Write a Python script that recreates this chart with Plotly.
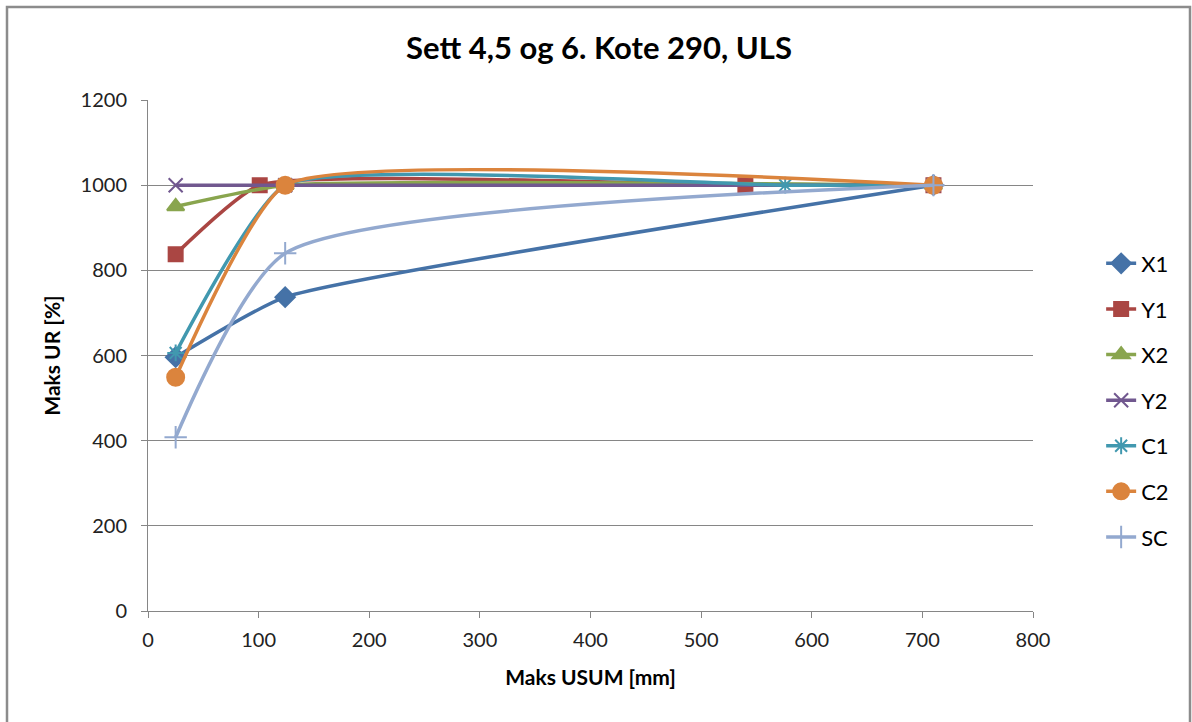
import plotly.graph_objects as go

# Data
x1_x = [25, 124, 710]
x1_y = [596, 737, 1000]
y1_x = [25, 101, 540, 710]
y1_y = [838, 1000, 1000, 1000]
x2_x = [25, 124, 710]
x2_y = [950, 1000, 1000]
y2_x = [25, 124, 710]
y2_y = [1000, 1000, 1000]
c1_x = [25, 124, 576, 710]
c1_y = [606, 1000, 1000, 1000]
c2_x = [25, 124, 710]
c2_y = [549, 1000, 1000]
sc_x = [25, 124, 710]
sc_y = [408, 840, 1000]

series = [
    ("X1", x1_x, x1_y, "#4572A7", "diamond", 15, 0.45),
    ("Y1", y1_x, y1_y, "#AA4643", "square", 14, 0.45),
    ("X2", x2_x, x2_y, "#89A54E", "triangle-up", 15, 0.45),
    ("Y2", y2_x, y2_y, "#71588F", "x-thin", 14, 0.45),
    ("C1", c1_x, c1_y, "#4198AF", "asterisk", 14, 0.45),
    ("C2", c2_x, c2_y, "#DB843D", "circle", 17, 0.45),
    ("SC", sc_x, sc_y, "#93A9CF", "cross-thin", 16, 0.6),
]

FONT = "Lato, 'Open Sans', sans-serif"

fig = go.Figure()
for name, xs, ys, col, sym, sz, sm in series:
    fig.add_trace(go.Scatter(
        x=xs, y=ys, name=name, mode="lines+markers", legendgroup=name,
        line=dict(color=col, width=3.5, shape="spline", smoothing=sm),
        marker=dict(symbol=sym, size=sz, color=col,
                    line=dict(color=col, width=2)),
    ))

fig.update_layout(
    width=1192, height=722,
    paper_bgcolor="white", plot_bgcolor="white",
    margin=dict(l=148, r=159, t=100, b=111),
    title=dict(text="<b>Sett 4,5 og 6. Kote 290, ULS</b>",
               x=599 / 1192, xanchor="center",
               y=1 - 48 / 722, yanchor="middle",
               font=dict(family=FONT, size=31, color="#000000")),
    font=dict(family=FONT, size=21, color="#222222"),
    showlegend=True,
    legend=dict(x=1.077, xanchor="left", y=0.721, yanchor="top",
                tracegroupgap=14, font=dict(size=22, color="#000"),
                bgcolor="rgba(0,0,0,0)"),
    xaxis=dict(range=[0, 800], dtick=100, showgrid=False,
               showline=True, linecolor="#868686", linewidth=1,
               ticks="outside", ticklen=6, tickcolor="#868686",
               zeroline=False, tickfont=dict(size=20), ticklabelstandoff=5,
               title=dict(text="<b>Maks USUM [mm]</b>", font=dict(size=21, color="#000"), standoff=20)),
    yaxis=dict(range=[0, 1200], dtick=200, showgrid=True, gridcolor="#868686", gridwidth=1,
               showline=True, linecolor="#868686", linewidth=1,
               ticks="outside", ticklen=6, tickcolor="#868686",
               zeroline=False, tickfont=dict(size=20), ticklabelstandoff=10,
               title=dict(text="<b>Maks UR [%]</b>", font=dict(size=21, color="#000"), standoff=14)),
    shapes=[dict(type="rect", xref="paper", yref="paper",
                 x0=(7 - 148) / 885, x1=(1190 - 148) / 885,
                 y0=-0.3, y1=(611 - 7) / 511,
                 line=dict(color="#8c8c8c", width=2.5), layer="below")],
)

fig.write_html("out.html", config={"displayModeBar": False},
               post_script="document.body.style.margin='0';")
